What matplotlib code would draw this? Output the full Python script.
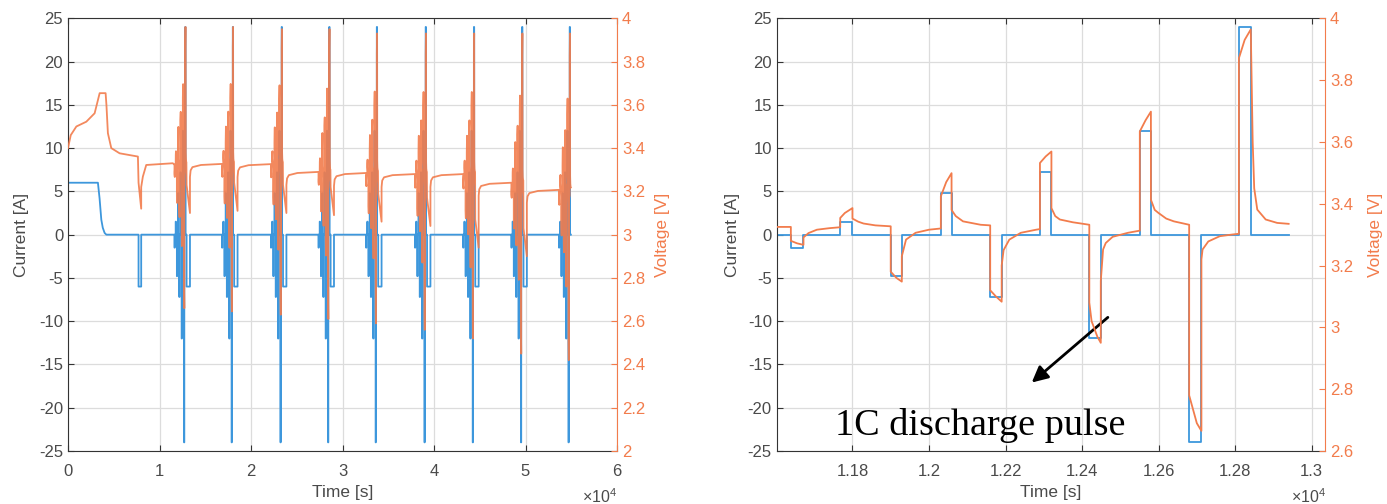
import numpy as np
import matplotlib.pyplot as plt
from matplotlib.ticker import FuncFormatter

plt.rcParams['font.family'] = ['Liberation Sans', 'DejaVu Sans']
plt.rcParams['mathtext.fontset'] = 'custom'
plt.rcParams['mathtext.rm'] = 'Liberation Sans'
plt.rcParams['axes.unicode_minus'] = False

blue = '#3d97dc'
orange = '#f27c4c'
txt = '#4a4a4a'

# one pulse block (the one zoomed on the right), time [s], current [A]
pulse_start = [11639, 11768, 11900, 12031, 12160, 12290, 12419, 12551, 12680, 12810]
pulse_end = [11672, 11800, 11929, 12059, 12190, 12320, 12449, 12580, 12712, 12841]
pulse_amp = [-1.5, 1.5, -4.8, 4.8, -7.2, 7.2, -12, 12, -24, 24]
block_start, block_end = 11600, 12940

# voltage of that block
block_t = [11600, 11639, 11639, 11655, 11672, 11672, 11685, 11707, 11740, 11768,
           11768, 11780, 11800, 11800, 11815, 11829, 11860, 11900,
           11900, 11915, 11929, 11929, 11940, 11965, 12000, 12031,
           12031, 12045, 12059, 12059, 12070, 12089, 12135, 12160,
           12160, 12175, 12190, 12190, 12195, 12210, 12240, 12280, 12290,
           12290, 12305, 12320, 12320, 12330, 12342, 12376, 12419,
           12419, 12425, 12440, 12449, 12449, 12455, 12462, 12480, 12520, 12551,
           12551, 12566, 12580, 12580, 12590, 12600, 12620, 12640, 12680,
           12680, 12690, 12700, 12712, 12712, 12715, 12730, 12760, 12790, 12810,
           12810, 12825, 12841, 12846, 12850, 12858, 12880, 12910, 12940]
block_v = [3.325, 3.325, 3.280, 3.272, 3.267, 3.291, 3.305, 3.316, 3.321, 3.324,
           3.354, 3.370, 3.386, 3.352, 3.342, 3.336, 3.330, 3.327,
           3.180, 3.160, 3.148, 3.230, 3.284, 3.306, 3.316, 3.320,
           3.424, 3.470, 3.499, 3.380, 3.360, 3.343, 3.332, 3.330,
           3.120, 3.100, 3.083, 3.200, 3.250, 3.284, 3.306, 3.316, 3.318,
           3.532, 3.553, 3.569, 3.386, 3.360, 3.349, 3.340, 3.332,
           3.080, 3.020, 2.970, 2.950, 3.150, 3.252, 3.273, 3.293, 3.306, 3.313,
           3.634, 3.670, 3.698, 3.413, 3.380, 3.370, 3.352, 3.343, 3.332,
           2.780, 2.735, 2.690, 2.665, 3.220, 3.252, 3.278, 3.295, 3.300, 3.303,
           3.871, 3.930, 3.964, 3.600, 3.450, 3.381, 3.349, 3.338, 3.335]

# full test (left panel): initial charge / rest / discharge
init_t = [0, 3270, 3450, 3640, 3800, 4000, 4190, 7710, 7710, 8000, 8000, 11600]
init_i = [6, 6, 4.2, 1.73, 0.8, 0.2, 0, 0, -6, -6, 0, 0]
init_vt = [0, 300, 915, 2000, 2910, 3270, 3460, 4110, 4200, 4360, 4730, 5640, 7640,
           7710, 8000, 8000, 8180, 8550, 11450, 11600]
init_v = [3.40, 3.46, 3.50, 3.522, 3.561, 3.623, 3.654, 3.654, 3.60, 3.469, 3.40, 3.376, 3.361,
          3.24, 3.12, 3.22, 3.268, 3.322, 3.33, 3.325]

# repeated pulse blocks: offset, rest voltage, lowest and highest voltage
group_off = [0, 5200, 10540, 15740, 20940, 26280, 31550, 36820, 42020]
group_rest = [3.325, 3.327, 3.326, 3.29, 3.285, 3.28, 3.28, 3.24, 3.207]
group_min = [2.66, 2.645, 2.63, 2.61, 2.59, 2.56, 2.52, 2.45, 2.42]
group_max = [3.96, 3.96, 3.95, 3.95, 3.93, 3.93, 3.93, 3.93, 3.93]
# -6 A step after each block and the voltage dip it causes
step_start, step_end, step_amp = 12960, 13330, -6
step_dip = [3.10, 3.11, 3.10, 3.09, 3.06, 3.04, 2.94, 2.90]


def block_current(off):
    t, i = [block_start + off], [0]
    for s, e, a in zip(pulse_start, pulse_end, pulse_amp):
        t += [s + off, s + off, e + off, e + off]
        i += [0, a, a, 0]
    t.append(block_end + off)
    i.append(0)
    return t, i


# right panel series
rt, ri = block_current(0)

# left panel series
lt, li = list(init_t), list(init_i)
lvt, lv = list(init_vt), list(init_v)
tv = np.array(block_v)
for k, off in enumerate(group_off):
    t, i = block_current(off)
    lt += t
    li += i
    r = group_rest[k]
    up = (group_max[k] - r) / (max(block_v) - block_v[0])
    dn = (r - group_min[k]) / (block_v[0] - min(block_v))
    d = tv - block_v[0]
    v = r + np.where(d > 0, d * up, d * dn)
    lvt += [x + off for x in block_t]
    lv += list(v)
    if k < len(group_off) - 1:
        rn = group_rest[k + 1]
        nxt = block_start + group_off[k + 1]
        lt += [step_start + off, step_start + off, step_end + off, step_end + off, nxt]
        li += [0, step_amp, step_amp, 0, 0]
        lvt += [step_start + off, step_end + off, step_end + off, step_end + off + 70,
                step_end + off + 270, step_end + off + 1200, nxt]
        lv += [step_dip[k] + 0.13, step_dip[k], rn - 0.06, rn - 0.03, rn - 0.015, rn - 0.005, rn]


def style(ax, axv, xlim, xticks, vlim, vticks):
    ax.set_xlim(*xlim)
    ax.set_ylim(-25, 25)
    ax.set_xticks(xticks)
    ax.set_yticks(range(-25, 26, 5))
    ax.xaxis.set_major_formatter(FuncFormatter(lambda x, p: '%g' % round(x / 1e4, 3)))
    ax.grid(True, color='#dcdcdc', lw=0.9)
    ax.set_axisbelow(True)
    ax.tick_params(direction='in', top=True, labelsize=12, colors='#333333',
                   labelcolor=txt, length=4)
    ax.tick_params(axis='x', pad=9)
    for s in ['left', 'bottom', 'top']:
        ax.spines[s].set_color('#333333')
    ax.spines['right'].set_visible(False)
    ax.set_xlabel('Time [s]', fontsize=12.5, color=txt, va='center')
    ax.set_ylabel('Current [A]', fontsize=12.5, color=txt, va='center')
    ax.xaxis.set_label_coords(0.5, -0.097)
    axv.set_ylim(*vlim)
    axv.set_yticks(vticks)
    axv.yaxis.set_major_formatter(FuncFormatter(lambda x, p: '%g' % round(x, 2)))
    axv.tick_params(direction='in', labelsize=12, colors=orange, length=4)
    for s in ['left', 'bottom', 'top']:
        axv.spines[s].set_visible(False)
    axv.spines['right'].set_color(orange)
    axv.set_ylabel('Voltage [V]', fontsize=12.5, color=orange, va='center')


fig = plt.figure(figsize=(13.87, 5.04), dpi=100)
bot = 1 - 451 / 504
hgt = (451 - 18.3) / 504

ax1 = fig.add_axes([68 / 1387, bot, 549 / 1387, hgt])
ax1v = ax1.twinx()
ax1.plot(lt, li, color=blue, lw=1.3)
ax1v.plot(lvt, lv, color=orange, lw=1.3, alpha=0.9)
style(ax1, ax1v, (0, 60000), range(0, 60001, 10000), (2, 4), np.arange(2, 4.01, 0.2))
ax1.yaxis.set_label_coords(-0.084, 0.5)
ax1v.yaxis.set_label_coords(1.083, 0.5)

ax2 = fig.add_axes([776.7 / 1387, bot, 548.3 / 1387, hgt])
ax2v = ax2.twinx()
ax2.plot(rt, ri, color=blue, lw=1.3)
ax2v.plot(block_t, block_v, color=orange, lw=1.3)
style(ax2, ax2v, (11602, 13035), range(11800, 13001, 200), (2.6, 4), np.arange(2.6, 4.01, 0.2))
ax2.yaxis.set_label_coords(-0.081, 0.5)
ax2v.yaxis.set_label_coords(1.093, 0.5)

for xr in [617, 1326]:
    fig.text(xr / 1387, 1 - 497 / 504, r'$\times\mathregular{10^{4}}$', ha='right', va='center',
             fontsize=11.5, color=txt)

ax2.annotate('', xy=(12263, -17.3), xytext=(12473, -9.35),
             arrowprops=dict(arrowstyle='-|>', color='black', lw=2, mutation_scale=24))
ax2.text(11755, -23.15, '1C discharge pulse', fontsize=27.5, family='Liberation Serif',
         color='black', va='baseline', ha='left', zorder=5)

fig.savefig('out.png', dpi=100)
